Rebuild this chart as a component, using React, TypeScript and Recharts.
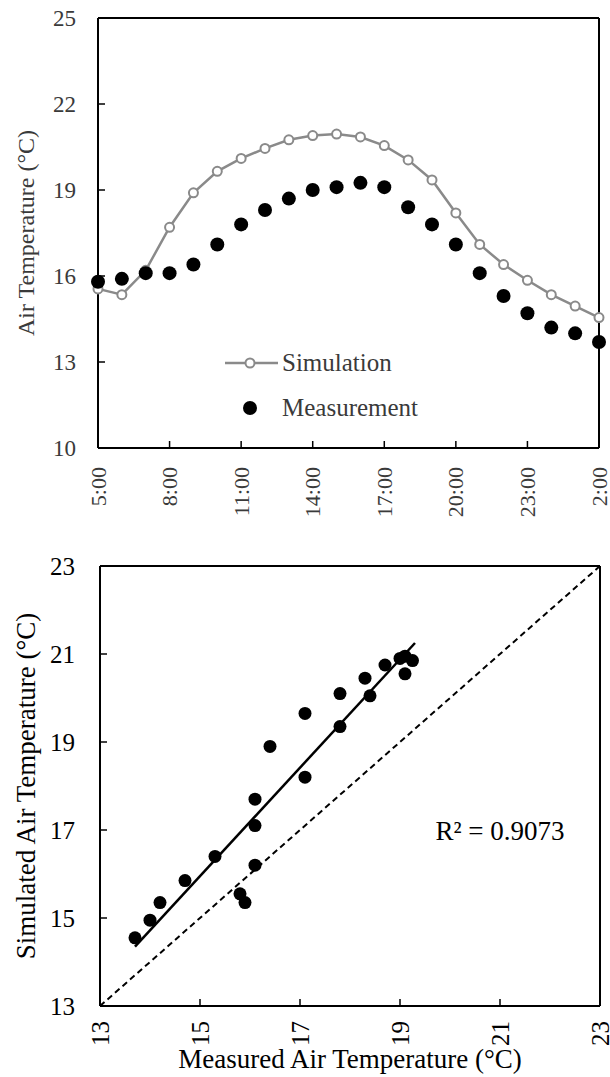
import React from 'react'
import {
  ComposedChart, ScatterChart, Scatter, Line, XAxis, YAxis,
  ReferenceLine, ReferenceDot, Legend,
} from 'recharts'

const FONT = '"Liberation Serif", "Times New Roman", serif'

// hourly readings, 5:00 through 2:00 next day
const hourLabels = [
  '5:00', '6:00', '7:00', '8:00', '9:00', '10:00', '11:00', '12:00',
  '13:00', '14:00', '15:00', '16:00', '17:00', '18:00', '19:00', '20:00',
  '21:00', '22:00', '23:00', '0:00', '1:00', '2:00',
]
const measured = [
  15.8, 15.9, 16.1, 16.1, 16.4, 17.1, 17.8, 18.3, 18.7, 19.0, 19.1,
  19.25, 19.1, 18.4, 17.8, 17.1, 16.1, 15.3, 14.7, 14.2, 14.0, 13.7,
]
const simulated = [
  15.55, 15.35, 16.2, 17.7, 18.9, 19.65, 20.1, 20.45, 20.75, 20.9, 20.95,
  20.85, 20.55, 20.05, 19.35, 18.2, 17.1, 16.4, 15.85, 15.35, 14.95, 14.55,
]
const timeTicks = [0, 3, 6, 9, 12, 15, 18, 21]
const tempTicks = [10, 13, 16, 19, 22, 25]
const scatterTicks = [13, 15, 17, 19, 21, 23]

// trendline ends and 1:1 line
const trendLine = [{ x: 13.7, y: 14.35 }, { x: 19.3, y: 21.25 }]
const oneToOne = [{ x: 13, y: 13 }, { x: 23, y: 23 }]

const timeData = hourLabels.map((label, i) => ({
  idx: i, label, meas: measured[i], sim: simulated[i],
}))
const pairData = measured.map((m, i) => ({ x: m, y: simulated[i] }))

const SIM_GREY = '#8a8a8a'
const TOP_TEXT = '#3a3a3a'
const TICK_LEN = 7

// ticks drawn inward, like the original spreadsheet figure
function leftTick(margin: number, fontSize: number, fill: string) {
  return (p: any) => {
    const ax = p.x + margin
    return (
      <g>
        <line x1={ax} x2={ax + TICK_LEN} y1={p.y} y2={p.y} stroke="#000" strokeWidth={1.5} />
        <text x={p.x} y={p.y} textAnchor="end" dominantBaseline="central"
          fontSize={fontSize} fill={fill} fontFamily={FONT}>
          {p.payload.value}
        </text>
      </g>
    )
  }
}

function bottomTick(margin: number, fontSize: number, fill: string, fmt: (v: number) => string) {
  return (p: any) => {
    const ay = p.y - margin
    return (
      <g>
        <line x1={p.x} x2={p.x} y1={ay} y2={ay - TICK_LEN} stroke="#000" strokeWidth={1.5} />
        <text x={p.x} y={p.y} textAnchor="end" dominantBaseline="central"
          transform={`rotate(-90 ${p.x} ${p.y})`}
          fontSize={fontSize} fill={fill} fontFamily={FONT}>
          {fmt(p.payload.value)}
        </text>
      </g>
    )
  }
}

function SeriesKey() {
  return (
    <div style={{ fontFamily: FONT, fontSize: 25, color: TOP_TEXT, lineHeight: 1 }}>
      <div style={{ display: 'flex', alignItems: 'center', height: 45 }}>
        <svg width={58} height={16}>
          <line x1={3} x2={56} y1={8} y2={8} stroke={SIM_GREY} strokeWidth={2.5} />
          <circle cx={28} cy={8} r={4.5} fill="#fff" stroke={SIM_GREY} strokeWidth={2} />
        </svg>
        <span style={{ marginLeft: 2 }}>Simulation</span>
      </div>
      <div style={{ display: 'flex', alignItems: 'center', height: 45 }}>
        <svg width={58} height={16}>
          <circle cx={28} cy={8} r={7} fill="#000" />
        </svg>
        <span style={{ marginLeft: 2 }}>Measurement</span>
      </div>
    </div>
  )
}

export default function App() {
  return (
    <div style={{ position: 'absolute', left: 0, top: 0, width: 610, height: 1077, background: '#fff' }}>
      {/* time series */}
      <div style={{ position: 'absolute', left: 0, top: 0 }}>
        <ComposedChart width={610} height={520} data={timeData}
          margin={{ top: 18, right: 11, bottom: 0, left: 0 }}>
          <XAxis dataKey="idx" type="number" domain={[0, 21]} ticks={timeTicks}
            height={72} interval={0} tickSize={0} tickMargin={19}
            axisLine={{ stroke: '#000', strokeWidth: 2 }} tickLine={false}
            tick={bottomTick(19, 22, TOP_TEXT, v => hourLabels[v])} />
          <YAxis type="number" domain={[10, 25]} ticks={tempTicks} width={98}
            interval={0} tickSize={0} tickMargin={22}
            axisLine={{ stroke: '#000', strokeWidth: 2 }} tickLine={false}
            tick={leftTick(22, 23, TOP_TEXT)}
            label={{ value: 'Air Temperature (°C)', angle: -90, position: 'insideLeft',
              dx: 20, style: { textAnchor: 'middle', fontSize: 24, fill: TOP_TEXT, fontFamily: FONT } }} />
          {/* frame: top and right edges */}
          <ReferenceLine y={25} stroke="#000" strokeWidth={2} />
          <ReferenceLine x={21} stroke="#000" strokeWidth={2} />
          <Line type="linear" dataKey="sim" stroke={SIM_GREY} strokeWidth={2.5}
            dot={{ r: 4.5, fill: '#fff', stroke: SIM_GREY, strokeWidth: 2 }}
            activeDot={false} isAnimationActive={false} />
          <Line type="linear" dataKey="meas" stroke="none"
            dot={{ r: 7, fill: '#000', stroke: 'none' }}
            activeDot={false} isAnimationActive={false} />
          <Legend layout="vertical" align="center" verticalAlign="middle"
            content={() => <SeriesKey />}
            wrapperStyle={{ left: 222, top: 340, width: 240 }} />
        </ComposedChart>
      </div>

      {/* simulated vs measured */}
      <div style={{ position: 'absolute', left: 0, top: 520 }}>
        <ScatterChart width={610} height={557}
          margin={{ top: 46, right: 10, bottom: 0, left: 0 }}>
          <XAxis dataKey="x" type="number" domain={[13, 23]} ticks={scatterTicks}
            height={71} interval={0} tickSize={0} tickMargin={15}
            axisLine={{ stroke: '#000', strokeWidth: 2 }} tickLine={false}
            tick={bottomTick(15, 25, '#000', v => String(v))}
            label={{ value: 'Measured Air Temperature (°C)', position: 'insideBottom', offset: 9,
              style: { fontSize: 27, fill: '#000', fontFamily: FONT } }} />
          <YAxis dataKey="y" type="number" domain={[13, 23]} ticks={scatterTicks} width={100}
            interval={0} tickSize={0} tickMargin={25}
            axisLine={{ stroke: '#000', strokeWidth: 2 }} tickLine={false}
            tick={leftTick(25, 25, '#000')}
            label={{ value: 'Simulated Air Temperature (°C)', angle: -90, position: 'insideLeft',
              dx: 20, style: { textAnchor: 'middle', fontSize: 27, fill: '#000', fontFamily: FONT } }} />
          {/* frame: top and right edges */}
          <ReferenceLine y={23} stroke="#000" strokeWidth={2} />
          <ReferenceLine x={23} stroke="#000" strokeWidth={2} />
          <ReferenceLine segment={oneToOne} stroke="#000" strokeWidth={2} strokeDasharray="6 4" />
          <ReferenceLine segment={trendLine} stroke="#000" strokeWidth={2.5} />
          <Scatter data={pairData} fill="#000" isAnimationActive={false}
            shape={(p: any) => <circle cx={p.cx} cy={p.cy} r={6.5} fill="#000" />} />
          <ReferenceDot x={21} y={17} r={0.1} fill="none" stroke="none"
            label={{ value: 'R² = 0.9073', position: 'center', fontSize: 27, fill: '#000', fontFamily: FONT }} />
        </ScatterChart>
      </div>
    </div>
  )
}
